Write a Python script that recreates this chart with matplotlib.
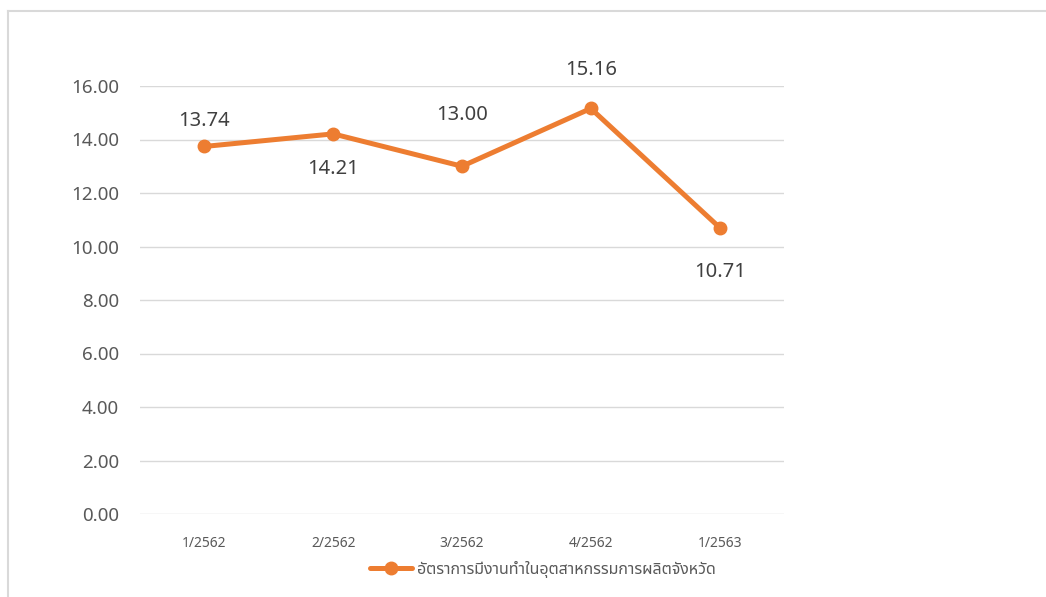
import matplotlib.pyplot as plt
from matplotlib.lines import Line2D

quarters = ['1/2562', '2/2562', '3/2562', '4/2562', '1/2563']
rate = [13.74, 14.21, 13.00, 15.16, 10.71]
series_name = 'อัตราการมีงานทำในอุตสาหกรรมการผลิตจังหวัด'
yticks = [0, 2, 4, 6, 8, 10, 12, 14, 16]

# label offsets (points), placed like the original chart
label_dy = [18, -25, 37, 28, -32]

plt.rcParams['font.family'] = ['Noto Sans', 'Noto Sans Thai', 'IBM Plex Sans Thai', 'Sarabun', 'DejaVu Sans']

W, H = 1046, 597
fig = plt.figure(figsize=(W / 100, H / 100), dpi=100)
ax = fig.add_axes([140 / W, 1 - 514 / H, 644 / W, 428 / H])

x = list(range(len(quarters)))
line, = ax.plot(x, rate, color='#ED7D31', lw=3.6, marker='o', ms=9,
                solid_capstyle='round', label=series_name, zorder=3)

for i, v in enumerate(rate):
    ax.annotate('%.2f' % v, (i, v), xytext=(0, label_dy[i]), textcoords='offset points',
                ha='center', va='center', fontsize=14.5, color='#404040', annotation_clip=False)

ax.set_xlim(-0.5, len(quarters) - 0.5)
ax.set_ylim(0, 16)
ax.set_yticks(yticks)
ax.set_yticklabels(['%.2f' % t for t in yticks], fontsize=13.5, color='#595959')
ax.set_xticks(x)
ax.set_xticklabels(quarters, fontsize=10, color='#595959')
ax.tick_params(length=0)
ax.tick_params(axis='y', pad=15)
ax.tick_params(axis='x', pad=16)
ax.grid(axis='y', color='#D9D9D9', lw=1)
ax.set_axisbelow(True)
for s in ax.spines.values():
    s.set_visible(False)

fig.legend(handles=[line], loc='center', bbox_to_anchor=(543 / W, 1 - 569 / H),
           frameon=False, fontsize=11.5, handlelength=2.6, handletextpad=0.3,
           labelcolor='#595959')

# chart frame (cropped)
fig.add_artist(Line2D([8 / W, 1], [1 - 11 / H, 1 - 11 / H], color='#D9D9D9', lw=1.5))
fig.add_artist(Line2D([8 / W, 8 / W], [0, 1 - 11 / H], color='#D9D9D9', lw=1.5))

fig.savefig('out.png', dpi=100)
